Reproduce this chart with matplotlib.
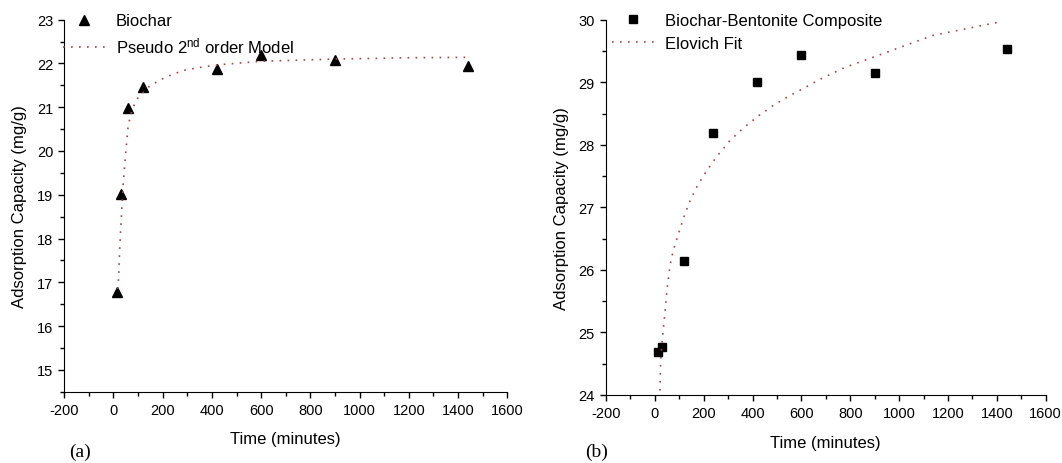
"""Adsorption kinetics: biochar (pseudo 2nd order) vs biochar-bentonite composite (Elovich).

    python plot.py
"""

import matplotlib

matplotlib.use("Agg")
import matplotlib.pyplot as plt
from matplotlib.ticker import MultipleLocator

plt.rcParams["font.family"] = ["Liberation Sans", "DejaVu Sans"]
plt.rcParams["mathtext.fontset"] = "custom"
plt.rcParams["mathtext.rm"] = "Liberation Sans"
plt.rcParams["mathtext.it"] = "Liberation Sans"
plt.rcParams["axes.unicode_minus"] = False

# (a) biochar
time_a = [15, 30, 60, 120, 420, 600, 900, 1440]
q_a = [16.77, 19.02, 20.98, 21.47, 21.87, 22.19, 22.08, 21.95]
fit_time_a = [17, 20, 26, 33, 40, 50, 60, 76, 101, 148, 209, 283, 372, 450, 600, 900, 1200, 1440]
fit_q_a = [16.85, 17.0, 17.84, 18.60, 19.29, 19.97, 20.58, 20.96, 21.23, 21.49, 21.68, 21.84,
           21.93, 21.98, 22.05, 22.10, 22.13, 22.14]

# (b) biochar-bentonite composite
time_b = [15, 30, 120, 240, 420, 600, 900, 1440]
q_b = [24.68, 24.77, 26.15, 28.19, 29.01, 29.44, 29.15, 29.53]
fit_time_b = [21, 24, 32, 41.5, 50, 62, 75.5, 96, 116, 140, 171, 208, 253, 308, 366, 427, 489,
              550, 608, 672, 780, 908, 1020, 1140, 1280, 1420]
fit_q_b = [24.07, 24.58, 24.95, 25.32, 25.69, 26.07, 26.31, 26.57, 26.81, 27.07, 27.32, 27.56,
           27.81, 28.07, 28.28, 28.47, 28.64, 28.78, 28.90, 29.04, 29.24, 29.42, 29.58, 29.75,
           29.86, 29.97]

FIT_COLOR = "#a04848"
DOTS = (0, (1, 3.8))


def panel(ax, t, q, ft, fq, *, marker, ms, label, fit_label, ylim, legend_x):
    ax.plot(t, q, ls="none", marker=marker, ms=ms, color="black", label=label)
    ax.plot(ft, fq, ls=DOTS, lw=1.2, color=FIT_COLOR, label=fit_label)
    ax.set_xlim(-200, 1600)
    ax.set_ylim(*ylim)
    ax.xaxis.set_major_locator(MultipleLocator(200))
    ax.xaxis.set_minor_locator(MultipleLocator(100))
    ax.yaxis.set_major_locator(MultipleLocator(1))
    ax.yaxis.set_minor_locator(MultipleLocator(0.5))
    ax.tick_params(which="major", direction="out", length=4, width=1, labelsize=10.5, pad=4)
    ax.tick_params(which="minor", direction="out", length=3, width=1)
    for side in ("top", "right"):
        ax.spines[side].set_visible(False)
    ax.set_xlabel("Time (minutes)", fontsize=12)
    ax.set_ylabel("Adsorption Capacity (mg/g)", fontsize=12)
    ax.xaxis.set_label_coords(0.5, -0.107)
    ax.yaxis.set_label_coords(-0.083, 0.5)
    ax.legend(loc="upper left", bbox_to_anchor=(legend_x, 1.017), frameon=False, fontsize=12,
              borderpad=0, borderaxespad=0, handlelength=2.5, handletextpad=0.65,
              labelspacing=0.45, numpoints=1)


def main() -> None:
    fig = plt.figure(figsize=(10.62, 4.64), dpi=100)
    ax_a = fig.add_axes([0.0605, 0.1537, 0.4171, 0.8017])
    ax_b = fig.add_axes([0.5706, 0.1466, 0.4140, 0.8088])
    panel(ax_a, time_a, q_a, fit_time_a, fit_q_a, marker="^", ms=6.5, label="Biochar",
          fit_label=r"Pseudo 2$^{\mathrm{nd}}$ order Model", ylim=(14.5, 23), legend_x=-0.002)
    panel(ax_b, time_b, q_b, fit_time_b, fit_q_b, marker="s", ms=5.5,
          label="Biochar-Bentonite Composite", fit_label="Elovich Fit", ylim=(24, 30),
          legend_x=0.014)
    for x, tag in ((0.065, "(a)"), (0.551, "(b)")):
        fig.text(x, 0.026, tag, fontsize=14, family="Liberation Serif", va="center", ha="left")
    fig.savefig("out.png", dpi=100)
    plt.close(fig)


if __name__ == "__main__":
    main()
